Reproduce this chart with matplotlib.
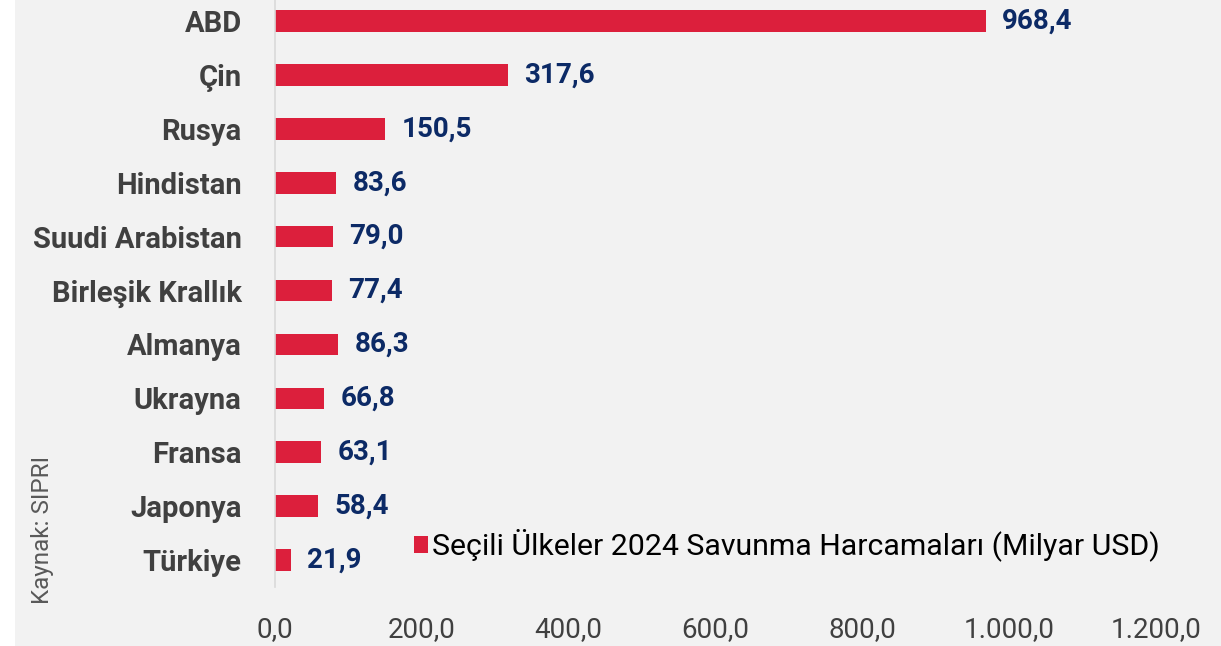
import matplotlib.pyplot as plt
import matplotlib.font_manager as fm
from matplotlib.patches import Rectangle

# data
countries = ['ABD', 'Çin', 'Rusya', 'Hindistan', 'Suudi Arabistan', 'Birleşik Krallık',
             'Almanya', 'Ukrayna', 'Fransa', 'Japonya', 'Türkiye']
spending = [968.4, 317.6, 150.5, 83.6, 79.0, 77.4, 86.3, 66.8, 63.1, 58.4, 21.9]
xticks = [0, 200, 400, 600, 800, 1000, 1200]
xtick_labels = ['0,0', '200,0', '400,0', '600,0', '800,0', '1.000,0', '1.200,0']
legend_text = 'Seçili Ülkeler 2024 Savunma Harcamaları (Milyar USD)'
source_text = 'Kaynak: SIPRI'

names = {f.name for f in fm.fontManager.ttflist}
fam = ['Liberation Sans Narrow', 'Roboto', 'DejaVu Sans']
fam = [f for f in fam if f in names] or ['DejaVu Sans']
plt.rcParams['font.family'] = fam

W, H = 1221, 646
fig = plt.figure(figsize=(W / 100, H / 100), dpi=100)
fig.patch.set_facecolor('white')
# gray panel
fig.add_artist(Rectangle((15 / W, 0), 1 - 15 / W, 1, transform=fig.transFigure,
                         facecolor='#f2f2f2', edgecolor='none', zorder=0))

ax = fig.add_axes([275 / W, (H - 587) / H, (1156 - 275) / W, 587 / H])
ax.set_facecolor('none')
y = list(range(len(countries)))
ax.barh(y, spending, height=0.40, color='#dc1f3c', zorder=2)
ax.set_xlim(0, 1200)
ax.set_ylim(10.5, -0.39)

ax.set_yticks(y)
ax.set_yticklabels(countries, fontsize=21, fontweight='bold', color='#404040')
ax.set_xticks(xticks)
ax.set_xticklabels(xtick_labels, fontsize=20, color='#404040')
ax.tick_params(axis='y', length=0, pad=24)
ax.tick_params(axis='x', length=0, pad=21)

for s in ['top', 'right', 'bottom']:
    ax.spines[s].set_visible(False)
ax.spines['left'].set_color('#d9d9d9')
ax.spines['left'].set_linewidth(1.2)

for yi, v in zip(y, spending):
    ax.text(v + 22, yi, f'{v:.1f}'.replace('.', ','), va='center', ha='left',
            fontsize=20, fontweight='bold', color='#0c2a66')

# legend
fig.add_artist(Rectangle((414 / W, (H - 553) / H), 14 / W, 17 / H, transform=fig.transFigure,
                         facecolor='#dc1f3c', edgecolor='none'))
fig.text(432 / W, (H - 545) / H, legend_text, fontsize=21.8, color='black', va='center', ha='left')

fig.text(43 / W, (H - 530) / H, source_text, rotation=90, fontsize=17.5, color='#595959',
         va='center', ha='center')

fig.savefig('out.png', dpi=100, facecolor=fig.get_facecolor())
